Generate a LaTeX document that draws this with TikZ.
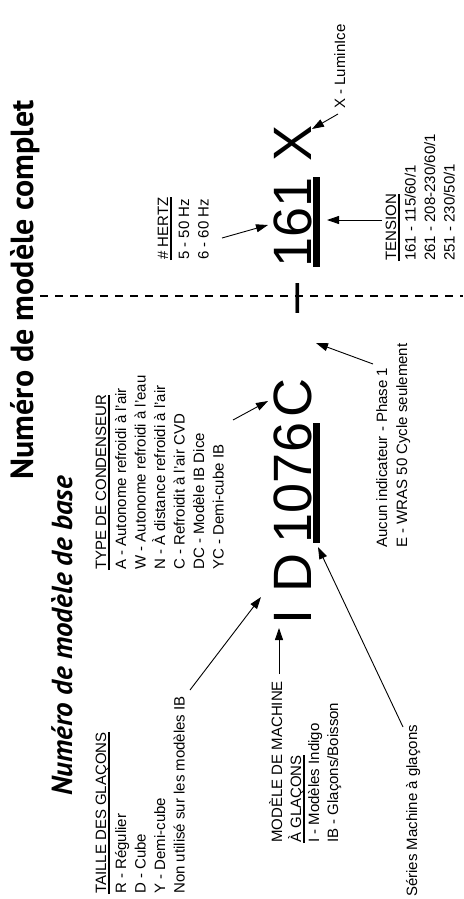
\documentclass[tikz,border=0pt]{standalone}
\usepackage{fontspec}
\setmainfont{Liberation Sans}
\newfontfamily\titlefont{PT Sans}
\usetikzlibrary{arrows.meta}
\begin{document}
\begin{tikzpicture}[x=1pt,y=-1pt,
  lbl/.style={rotate=90,anchor=base west,inner sep=0pt,font=\fontsize{15}{18}\selectfont},
  bigc/.style={rotate=90,anchor=base,inner sep=0pt,font=\fontsize{54}{60}\selectfont},
  arr/.style={line width=0.9pt,-{Triangle[length=12pt,width=8pt]}},
  ul/.style={line width=1.4pt},
  heavy/.style={line width=7pt},
  sep/.style={line width=2.6pt,dash pattern=on 8pt off 7pt}]
\useasboundingbox (0,0) rectangle (463,899);
% titles
\node[rotate=90,anchor=base,inner sep=0pt,font=\titlefont\bfseries\fontsize{32}{36}\selectfont] (tcomplet) at (33,290) {Numéro de modèle complet};
\node[rotate=90,anchor=base,inner sep=0pt,font=\titlefont\bfseries\itshape\fontsize{29}{33}\selectfont] (tbase) at (72,636) {Numéro de modèle de base};
% taille des glacons
\node[lbl] (taille) at (106,894) {TAILLE DES GLAÇONS};
\node[lbl] (tR) at (126,894) {R - Régulier};
\node[lbl] (tD) at (145.5,894) {D - Cube};
\node[lbl] (tY) at (165,894) {Y - Demi-cube};
\node[lbl] (tNon) at (184.5,894) {Non utilisé sur les modèles IB};
% type de condenseur
\node[lbl] (type) at (106,570) {TYPE DE CONDENSEUR};
\node[lbl] (cA) at (126,570) {A - Autonome refroidi à l’air};
\node[lbl] (cW) at (145.5,570) {W - Autonome refroidi à l’eau};
\node[lbl] (cN) at (165,570) {N - À distance refroidi à l’air};
\node[lbl] (cC) at (184.5,570) {C - Refroidit à l’air CVD};
\node[lbl] (cDC) at (204,570) {DC - Modèle IB Dice};
\node[lbl] (cYC) at (223.5,570) {YC - Demi-cube IB};
% machine
\node[lbl] (mach1) at (282,843) {MODÈLE DE MACHINE};
\node[lbl] (mach2) at (301,843) {À GLAÇONS};
\node[lbl] (mI) at (319,843) {I - Modèles Indigo};
\node[lbl] (mIB) at (338,843) {IB - Glaçons/Boisson};
\node[lbl] (series) at (417,897) {Séries Machine à glaçons};
% indicateur
\node[lbl] (aucun) at (387,548) {Aucun indicateur - Phase 1};
\node[lbl] (wras) at (407,548) {E - WRAS 50 Cycle seulement};
% hertz
\node[lbl] (hertz) at (168,260) {\# HERTZ};
\node[lbl] (h5) at (189,260) {5 - 50 Hz};
\node[lbl] (h6) at (208.5,260) {6 - 60 Hz};
% tension
\node[lbl] (tension) at (396,261) {TENSION};
\node[lbl] (v161) at (415.5,261) {161 - 115/60/1};
\node[lbl] (v261) at (435,261) {261 - 208-230/60/1};
\node[lbl] (v251) at (454.5,261) {251 - 230/50/1};
% lumin
\node[lbl] (lumin) at (345,109) {X - LuminIce};
% big model number
\node[bigc] (bI) at (311,617) {I};
\node[bigc] (bD) at (311,573) {D};
\node[bigc] (b1076) at (311,483) {1076};
\node[bigc] (bC) at (311,398) {C};
\node[bigc] (bdash) at (311,298) {–};
\node[bigc] (b161) at (311,222) {161};
\node[bigc] (bX) at (311,143.5) {X};
% underlines
\foreach \n in {taille,type,hertz,tension,mach2}
  \draw[ul] ([xshift=3pt]\n.base west) -- ([xshift=3pt]\n.base east);
\coordinate (u1a) at (316,423); \coordinate (u1b) at (316,543);
\coordinate (u2a) at (316,177); \coordinate (u2b) at (316,267);
\draw[heavy] (u1a) -- (u1b);
\draw[heavy] (u2a) -- (u2b);
% separator
\coordinate (sepA) at (40,296); \coordinate (sepB) at (463,296);
\draw[sep] (sepA) -- (sepB);
% arrows
\coordinate (a1s) at (190,690); \coordinate (a1e) at (261,597);
\coordinate (a2s) at (279,674); \coordinate (a2e) at (279,628);
\coordinate (a3s) at (233,420); \coordinate (a3e) at (268,401);
\coordinate (a4s) at (403,727); \coordinate (a4e) at (318,547);
\coordinate (a5s) at (373,364); \coordinate (a5e) at (316,343);
\coordinate (a6s) at (222,238); \coordinate (a6e) at (268,225);
\coordinate (a7s) at (382,220); \coordinate (a7e) at (327,220);
\coordinate (a8s) at (338,114); \coordinate (a8e) at (312,129);
\foreach \i in {1,...,8} \draw[arr] (a\i s) -- (a\i e);
\end{tikzpicture}
\end{document}
